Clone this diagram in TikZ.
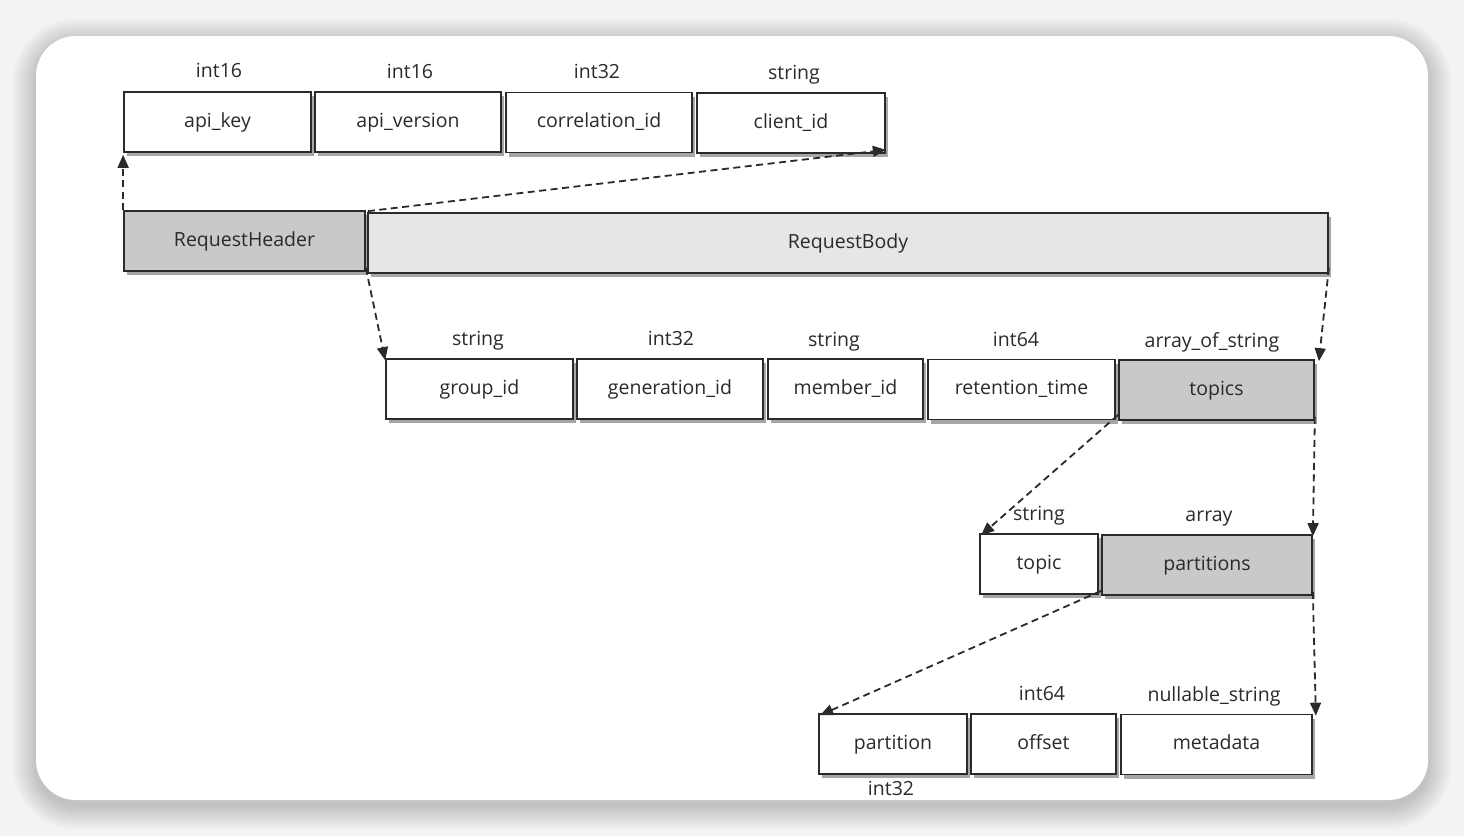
\documentclass[tikz,border=0pt]{standalone}
\usepackage{fontspec}
\setmainfont{Open Sans}
\usetikzlibrary{arrows.meta,shadows}
\definecolor{ink}{HTML}{2A2A2A}
\definecolor{pagegray}{HTML}{F3F3F3}
\definecolor{darkfill}{HTML}{C9C9C9}
\definecolor{lightfill}{HTML}{E6E6E6}
\begin{document}
\begin{tikzpicture}[x=1pt,y=-1pt,
  font=\fontsize{19.5}{22}\selectfont,
  field/.style={draw=ink, line width=1.7pt, fill=white, inner sep=0pt,
    minimum height=60pt, text=ink, text height=14pt, text depth=4pt,
    drop shadow={shadow xshift=3pt, shadow yshift=-4pt, fill=black, opacity=0.35}},
  darkfield/.style={field, fill=darkfill},
  lightfield/.style={field, fill=lightfill},
  typelabel/.style={text=ink, inner sep=0pt, text height=14pt, text depth=4pt},
  link/.style={draw=ink, line width=1.8pt, dash pattern=on 7pt off 4.5pt,
    -{Triangle[length=13pt,width=11pt]}}
]
% page and card
\useasboundingbox (0,0) rectangle (1464,836);
\fill[pagegray] (0,0) rectangle (1464,836);
\foreach \s in {1,...,24}{
  \fill[black, opacity=0.007, rounded corners=40pt+\s pt]
    (36-\s,36-\s+6) rectangle (1428+\s,800+\s+6);
}
\fill[white, rounded corners=40pt] (36,36) rectangle (1428,800);

% request header fields
\node[field, minimum width=187pt] (apikey) at (217.5,122) {api\_key};
\node[field, minimum width=186pt] (apiver) at (408,122) {api\_version};
\node[field, minimum width=186pt] (corr) at (599,122.5) {correlation\_id};
\node[field, minimum width=188pt] (client) at (791,123) {client\_id};
\node[typelabel] (t-apikey) at (219,72) {int16};
\node[typelabel] (t-apiver) at (410,73) {int16};
\node[typelabel] (t-corr) at (597,73) {int32};
\node[typelabel] (t-client) at (794,74) {string};

% header and body
\node[darkfield, minimum width=241pt] (header) at (244.5,241) {RequestHeader};
\node[lightfield, minimum width=960pt] (body) at (848,243) {RequestBody};

% request body fields
\node[field, minimum width=187pt] (group) at (479.5,389) {group\_id};
\node[field, minimum width=186pt] (gen) at (670,389) {generation\_id};
\node[field, minimum width=155pt] (member) at (845.5,389) {member\_id};
\node[field, minimum width=187pt] (retention) at (1021.5,389.5) {retention\_time};
\node[darkfield, minimum width=195pt] (topics) at (1216.5,390) {topics};
\node[typelabel] (t-group) at (478,340) {string};
\node[typelabel] (t-gen) at (671,340) {int32};
\node[typelabel] (t-member) at (834,341) {string};
\node[typelabel] (t-retention) at (1016,341) {int64};
\node[typelabel] (t-topics) at (1212,342) {array\_of\_string};

% topic entry
\node[field, minimum width=118pt] (topic) at (1039,564) {topic};
\node[darkfield, minimum width=210pt] (parts) at (1207,565) {partitions};
\node[typelabel] (t-topic) at (1039,515) {string};
\node[typelabel] (t-parts) at (1209,516) {array};

% partition entry
\node[field, minimum width=148pt] (partition) at (893,744) {partition};
\node[field, minimum width=145pt] (offset) at (1043.5,744) {offset};
\node[field, minimum width=191pt] (meta) at (1216.5,744.5) {metadata};
\node[typelabel] (t-offset) at (1042,695) {int64};
\node[typelabel] (t-meta) at (1214,696) {nullable\_string};
\node[typelabel] (t-partition) at (891,790) {int32};

% expansions
\draw[link] (header.north west) -- ([yshift=-2pt]apikey.south west);
\draw[link] ([xshift=2pt,yshift=-1pt]header.north east) -- ([yshift=4pt]client.south east);
\draw[link] ([yshift=4pt]header.south east) -- ([yshift=-2pt]group.north west);
\draw[link] ([yshift=6pt]body.south east) -- ([xshift=4pt,yshift=-2pt]topics.north east);
\draw[link] ([yshift=6pt]topics.south west) -- ([xshift=2pt,yshift=-2pt]topic.north west);
\draw[link] ([yshift=4pt]topics.south east) -- ([yshift=-2pt]parts.north east);
\draw[link] ([yshift=5pt]parts.south west) -- ([xshift=2pt,yshift=-2pt]partition.north west);
\draw[link] ([yshift=4pt]parts.south east) -- ([xshift=3pt,yshift=-2pt]meta.north east);
\end{tikzpicture}
\end{document}
